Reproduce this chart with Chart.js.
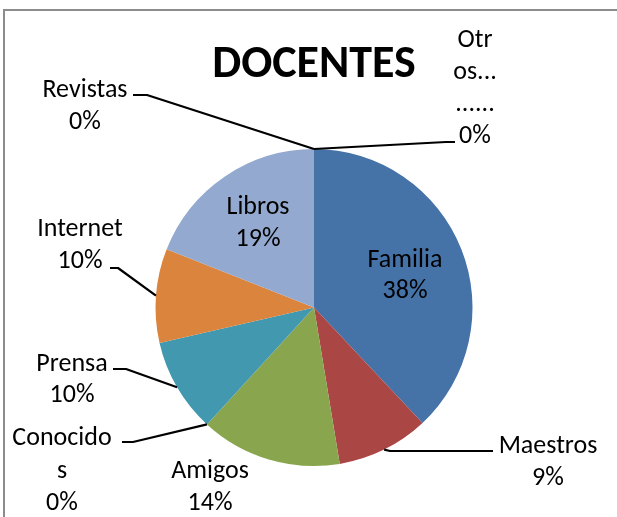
<!DOCTYPE html>
<html>
<head>
<meta charset="utf-8">
<script src="https://cdn.jsdelivr.net/npm/chart.js@4/dist/chart.umd.min.js"></script>
<style>
  html, body { margin: 0; padding: 0; background: #ffffff; overflow: hidden; }
  #wrap { position: relative; width: 617px; height: 517px; }
  #frame { position: absolute; left: 3px; top: 9px; width: 700px; height: 600px;
           border-top: 2px solid #8c8c8c; border-left: 2px solid #8c8c8c; }
  canvas { position: absolute; left: 0; top: 0; }
</style>
</head>
<body>
<div id="wrap">
  <div id="frame"></div>
  <canvas id="c" width="617" height="517"></canvas>
</div>
<script>
// ---- data ----
const title = 'DOCENTES';
const categories = ['Familia', 'Maestros', 'Amigos', 'Conocidos', 'Prensa', 'Internet', 'Libros', 'Revistas', 'Otros......'];
// shares (%); labels show rounded values
const values = [38, 9.4, 14.4, 0, 9.6, 9.6, 19, 0, 0];
// category names as wrapped in the reference labels
const labelLines = [
  ['Familia'], ['Maestros'], ['Amigos'], ['Conocido', 's'], ['Prensa'],
  ['Internet'], ['Libros'], ['Revistas'], ['Otr', 'os...', '......']
];
const colors = ['#4572A7', '#AA4643', '#89A54E', '#71588F', '#4198AF', '#DB843D', '#93A9CF', '#D19392', '#B9CD96'];

// ---- label layout (positions only) ----
const labelLayout = [
  { x: 405, y: 267, lh: 31, leader: null },
  { x: 548, y: 453, lh: 32, leader: [[390, 451], [493, 451]] },
  { x: 210, y: 478, lh: 32, leader: null },
  { x: 62,  y: 445, lh: 32.5, leader: [[133, 442], [122, 442]] },
  { x: 72,  y: 371, lh: 31, leader: [[126, 369], [113, 369]] },
  { x: 80,  y: 236, lh: 32, leader: [[118, 268], [110, 268]] },
  { x: 258, y: 214, lh: 32, leader: null },
  { x: 85,  y: 97,  lh: 32, leader: [[147, 95], [133, 95]] },
  { x: 475, y: 47,  lh: 32, leader: [[446, 142], [455, 142]] }
];

const FONT = '"Carlito", "Open Sans", "DejaVu Sans", sans-serif';

const labelPlugin = {
  id: 'pieLabels',
  afterDatasetsDraw(chart) {
    const ctx = chart.ctx;
    const meta = chart.getDatasetMeta(0);
    const total = values.reduce((a, b) => a + b, 0);
    ctx.save();
    // leader lines
    ctx.strokeStyle = '#000000';
    ctx.lineWidth = 2.2;
    ctx.lineJoin = 'round';
    meta.data.forEach((arc, i) => {
      const lay = labelLayout[i];
      if (!lay.leader) return;
      const p = arc.getProps(['x', 'y', 'startAngle', 'endAngle', 'outerRadius'], true);
      const mid = (p.startAngle + p.endAngle) / 2;
      const rx = p.x + Math.cos(mid) * p.outerRadius;
      const ry = p.y + Math.sin(mid) * p.outerRadius;
      ctx.beginPath();
      ctx.moveTo(rx, ry);
      lay.leader.forEach(pt => ctx.lineTo(pt[0], pt[1]));
      ctx.stroke();
    });
    // texts
    ctx.fillStyle = '#000000';
    ctx.textAlign = 'center';
    ctx.textBaseline = 'alphabetic';
    ctx.font = '26px ' + FONT;
    meta.data.forEach((arc, i) => {
      const lay = labelLayout[i];
      const pct = Math.round(values[i] / total * 100) + '%';
      const lines = labelLines[i].concat([pct]);
      lines.forEach((t, k) => ctx.fillText(t, lay.x, lay.y + k * lay.lh));
    });
    // title
    ctx.font = 'bold 46px ' + FONT;
    ctx.fillText(title, 314, 77);
    ctx.restore();
  }
};

new Chart(document.getElementById('c'), {
  type: 'pie',
  data: {
    labels: categories,
    datasets: [{
      data: values,
      backgroundColor: colors,
      borderWidth: 0
    }]
  },
  options: {
    responsive: false,
    animation: false,
    layout: { padding: { left: 155, right: 144, top: 149, bottom: 51 } },
    plugins: { legend: { display: false }, tooltip: { enabled: false }, title: { display: false } }
  },
  plugins: [labelPlugin]
});
</script>
</body>
</html>
